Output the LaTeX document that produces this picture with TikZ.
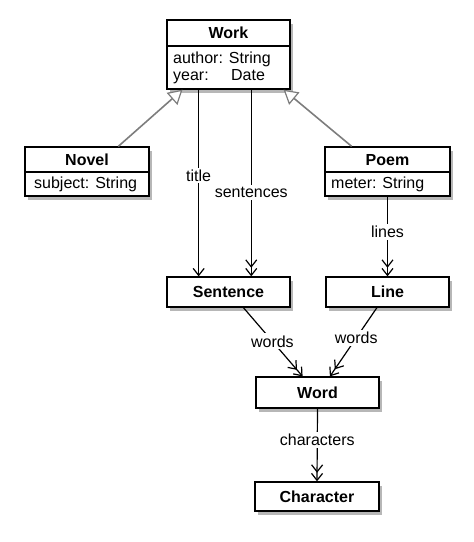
\documentclass[tikz,border=0pt]{standalone}
\usepackage{fontspec}
\setmainfont{Liberation Sans}
\usetikzlibrary{arrows.meta,calc,shadows}
\definecolor{gencol}{RGB}{125,125,125}
\tikzset{
  classbox/.style={draw=black, line width=1.3pt, fill=white, inner sep=0pt,
    drop shadow={shadow xshift=2.5pt, shadow yshift=-3.5pt, opacity=0.4, fill=black!70}},
  ctitle/.style={font=\fontsize{16}{18}\selectfont\bfseries, inner sep=0pt},
  cattr/.style={font=\fontsize{16}{18}\selectfont, inner sep=0pt, anchor=west},
  divider/.style={line width=1.2pt},
  lbl/.style={font=\fontsize{16}{18}\selectfont, fill=white, inner sep=2pt},
  assoc/.style={line width=1.2pt, -{Straight Barb[length=7pt,width=11pt,line width=1.2pt]}},
  assocmany/.style={line width=1.2pt, -{Straight Barb[length=7pt,width=11pt,line width=1.2pt,sep=0pt] Straight Barb[length=7pt,width=11pt,line width=1.2pt]}},
  gener/.style={draw=gencol, line width=1.6pt, -{Triangle[open,length=14pt,width=16pt,fill=white,line width=1.2pt]}}
}
\begin{document}
\begin{tikzpicture}[x=1pt,y=-1pt]
\useasboundingbox (0,0) rectangle (474,542);
% Work
\node[classbox, minimum width=123pt, minimum height=69pt] (work) at (228.5,54.5) {};
\draw[divider] (167,46) -- (290,46);
\node[ctitle] (worktitle) at (228.5,33) {Work};
\node[cattr] (workattr1) at (173,59) {author: String};
\node[cattr] (workattr2) at (173,77) {\makebox[58pt][l]{year:}Date};
% Novel
\node[classbox, minimum width=124pt, minimum height=49pt] (novel) at (87,171.5) {};
\draw[divider] (25,172) -- (149,172);
\node[ctitle] (noveltitle) at (87,160) {Novel};
\node[cattr] (novelattr) at (34,184) {subject: String};
% Poem
\node[classbox, minimum width=125pt, minimum height=49pt] (poem) at (387.5,171.5) {};
\draw[divider] (325,172) -- (450,172);
\node[ctitle] (poemtitle) at (387.5,160) {Poem};
\node[cattr] (poemattr) at (331,184) {meter: String};
% Sentence, Line, Word, Character
\node[classbox, minimum width=123pt, minimum height=30pt, ctitle] (sentence) at (228.5,292) {Sentence};
\node[classbox, minimum width=123pt, minimum height=30pt, ctitle] (line) at (387.5,292) {Line};
\node[classbox, minimum width=123pt, minimum height=31pt, ctitle] (word) at (317.5,392.5) {Word};
\node[classbox, minimum width=124pt, minimum height=29pt, ctitle] (character) at (317,496.5) {Character};
% generalizations
\draw[gener] ($(novel.north west)!0.75!(novel.north east)$) -- ($(work.south west)!0.13!(work.south east)$);
\draw[gener] ($(poem.north west)!0.216!(poem.north east)$) -- ($(work.south west)!0.943!(work.south east)$);
% associations
\draw[assoc] ($(work.south west)!0.26!(work.south east)$) -- node[lbl, pos=0.46] {title} ($(sentence.north west)!0.26!(sentence.north east)$);
\draw[assocmany] ($(work.south west)!0.683!(work.south east)$) -- node[lbl, pos=0.55] {sentences} ($(sentence.north west)!0.683!(sentence.north east)$);
\draw[assocmany] (poem.south) -- node[lbl, pos=0.44] {lines} (line.north);
\draw[assocmany] ($(sentence.south west)!0.62!(sentence.south east)$) -- node[lbl, pos=0.49] {words} ($(word.north west)!0.38!(word.north east)$);
\draw[assocmany] ($(line.south west)!0.415!(line.south east)$) -- node[lbl, pos=0.44] {words} ($(word.north west)!0.6!(word.north east)$);
\draw[assocmany] (word.south) -- node[lbl, pos=0.43] {characters} (character.north);
\end{tikzpicture}
\end{document}
